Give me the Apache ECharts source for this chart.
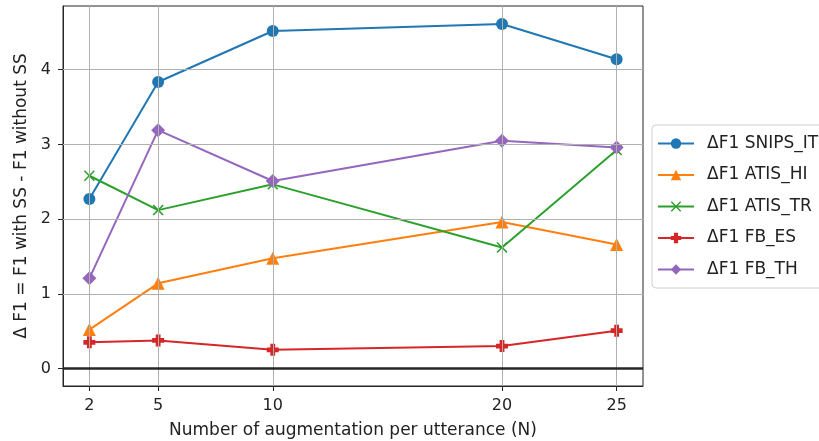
<!DOCTYPE html>
<html>
<head>
<meta charset="utf-8">
<script src="https://cdn.jsdelivr.net/npm/echarts@6/dist/echarts.min.js"></script>
<style>html,body{margin:0;padding:0;background:#fff;}#c{width:819px;height:441px;}</style>
</head>
<body>
<div id="c"></div>
<script>
var xValues = [2, 5, 10, 20, 25];
var yTicks = [0, 1, 2, 3, 4];
var seriesNames = ['ΔF1 SNIPS_IT', 'ΔF1 ATIS_HI', 'ΔF1 ATIS_TR', 'ΔF1 FB_ES', 'ΔF1 FB_TH'];
var snipsIT = [2.27, 3.835, 4.518, 4.612, 4.139];
var atisHI = [0.52, 1.14, 1.475, 1.96, 1.66];
var atisTR = [2.58, 2.12, 2.465, 1.62, 2.925];
var fbES = [0.35, 0.375, 0.25, 0.30, 0.506];
var fbTH = [1.207, 3.19, 2.51, 3.05, 2.96];

var colors = ['#1f77b4', '#ff7f0e', '#2ca02c', '#d62728', '#9467bd'];
var symbols = [
  'circle',
  'triangle',
  'path://M0,1 L1,0 L5,4 L9,0 L10,1 L6,5 L10,9 L9,10 L5,6 L1,10 L0,9 L4,5 Z',
  'path://M3,0 L7,0 L7,3 L10,3 L10,7 L7,7 L7,10 L3,10 L3,7 L0,7 L0,3 L3,3 Z',
  'diamond'
];
var sizes = [12, 13, 11, 12, 14];
var allData = [snipsIT, atisHI, atisTR, fbES, fbTH];

var font = 'DejaVu Sans';
var tickFs = 16;
var labelFs = 17;
var series = [];
series.push({
  type: 'line', data: [], z: 1, silent: true,
  markLine: {
    silent: true, symbol: 'none', animation: false,
    label: {show: false},
    lineStyle: {type: 'solid', color: '#b0b0b0', width: 1},
    data: xValues.map(function (v) { return {xAxis: v}; })
      .concat(yTicks.filter(function (v) { return v !== 0; }).map(function (v) { return {yAxis: v}; }))
  }
});
series.push({
  type: 'line', data: [], z: 5, silent: true,
  markLine: {
    silent: true, symbol: 'none', animation: false,
    label: {show: false},
    lineStyle: {type: 'solid', color: '#262626', width: 2.6},
    data: [{yAxis: 0}]
  }
});
allData.forEach(function (arr, i) {
  series.push({
    name: seriesNames[i],
    type: 'line',
    z: 3 + i * 0.1,
    data: xValues.map(function (x, j) { return [x, arr[j]]; }),
    symbol: symbols[i],
    symbolSize: sizes[i],
    showSymbol: true,
    lineStyle: {color: colors[i], width: 2},
    itemStyle: {color: colors[i]},
    animation: false
  });
});

var chart = echarts.init(document.getElementById('c'), null, {renderer: 'canvas'});
chart.setOption({
  animation: false,
  color: colors,
  grid: {left: 63, top: 6, right: 176, bottom: 55, containLabel: false, outerBoundsMode: 'none',
    show: true, borderColor: '#262626', borderWidth: 1, backgroundColor: 'transparent'},
  legend: {
    orient: 'vertical', left: 652, top: 125,
    data: seriesNames,
    itemWidth: 36, itemHeight: 13, itemGap: 14.5,
    padding: [10, 20, 10, 5],
    borderColor: '#d0d0d0', borderWidth: 1, borderRadius: 4,
    backgroundColor: '#fff',
    textStyle: {fontFamily: font, fontSize: labelFs, color: '#222', padding: [0, 0, 0, 8]}
  },
  xAxis: {
    type: 'value', min: 0.85, max: 26.15,
    name: 'Number of augmentation per utterance (N)',
    nameLocation: 'middle', nameGap: 36,
    nameTextStyle: {fontFamily: font, fontSize: labelFs, color: '#222'},
    axisLine: {show: true, onZero: false, lineStyle: {color: '#262626', width: 1}},
    axisTick: {show: true, length: 5, lineStyle: {color: '#262626'}, customValues: xValues},
    axisLabel: {fontFamily: font, fontSize: tickFs, color: '#222', margin: 12, customValues: xValues},
    splitLine: {show: false}
  },
  yAxis: {
    type: 'value', min: -0.235, max: 4.853,
    name: 'Δ F1 = F1 with SS - F1 without SS',
    nameLocation: 'middle', nameGap: 30, nameRotate: 90,
    nameTextStyle: {fontFamily: font, fontSize: labelFs, color: '#222'},
    axisLine: {show: true, onZero: false, lineStyle: {color: '#262626', width: 1}},
    axisTick: {show: true, length: 5, lineStyle: {color: '#262626'}, customValues: yTicks},
    axisLabel: {fontFamily: font, fontSize: tickFs, color: '#222', margin: 12, customValues: yTicks},
    splitLine: {show: false}
  },
  series: series
});
</script>
</body>
</html>
